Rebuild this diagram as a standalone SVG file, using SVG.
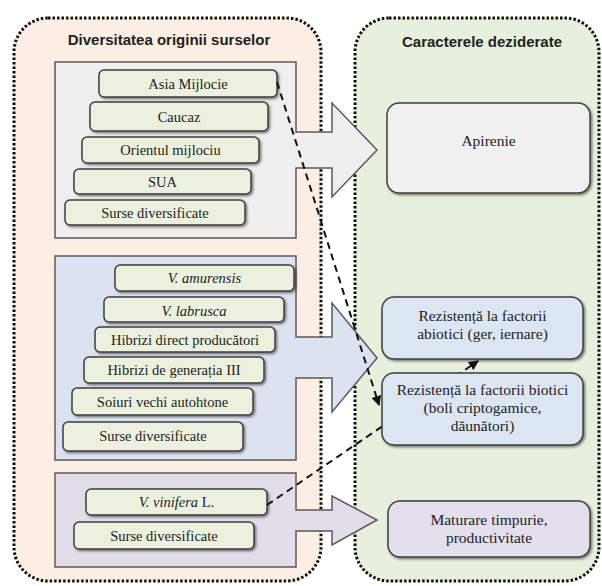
<svg xmlns="http://www.w3.org/2000/svg" width="602" height="586" viewBox="0 0 602 586">
<defs>
<filter id="sh" x="-10%" y="-20%" width="125%" height="150%">
<feDropShadow dx="1.5" dy="1.5" stdDeviation="1" flood-color="#000" flood-opacity="0.5"/>
</filter>
<marker id="ah" markerUnits="userSpaceOnUse" markerWidth="10" markerHeight="10" viewBox="0 0 10 10" refX="9" refY="5" orient="auto">
<path d="M0,0 L10,5 L0,10 Z" fill="#111"/>
</marker>
<style>
.cont{stroke:#111;stroke-width:3;stroke-dasharray:2.5 2;}
.title{font-weight:bold;font-size:15px;fill:#222;text-anchor:middle;}
.grp{stroke:#595959;stroke-width:1.5;}
.item{fill:#ebf1de;stroke:#3f3f3f;stroke-width:1.5;filter:url(#sh);}
.it{font-size:14.5px;fill:#222;text-anchor:middle;}
.node{stroke:#3f3f3f;stroke-width:1.5;filter:url(#sh);}
.nt{font-size:15.5px;fill:#222;text-anchor:middle;}
.dash{fill:none;stroke:#111;stroke-width:2;stroke-dasharray:7 5;}
</style>
</defs>

<g id="container-left">
<rect class="cont" x="14" y="18" width="307" height="563" rx="34" fill="#fdeee3"/>
<text class="title" font-family="Liberation Sans, Arial, sans-serif" x="169" y="45">Diversitatea originii surselor</text>
</g>
<g id="container-right">
<rect class="cont" x="355" y="18" width="244" height="563" rx="34" fill="#e6f0dc"/>
<text class="title" font-family="Liberation Sans, Arial, sans-serif" x="482" y="47">Caracterele deziderate</text>
</g>

<g id="group-1" font-family="Liberation Serif, Times New Roman, serif">
<path class="grp" fill="#efefef" d="M55,62 H296 V132 H332 V103 L377,150 L332,197 V168 H296 V238 H55 Z"/>
<g id="n-asia"><rect class="item" x="99" y="70" width="178" height="27" rx="5"/><text class="it" x="188" y="88.5">Asia Mijlocie</text></g>
<g id="n-caucaz"><rect class="item" x="90" y="102" width="178" height="29" rx="5"/><text class="it" x="179" y="121.5">Caucaz</text></g>
<g id="n-orient"><rect class="item" x="82" y="137" width="177" height="26" rx="5"/><text class="it" x="170.5" y="155">Orientul mijlociu</text></g>
<g id="n-sua"><rect class="item" x="74" y="169" width="177" height="25" rx="5"/><text class="it" x="162.5" y="186.5">SUA</text></g>
<g id="n-surse1"><rect class="item" x="65" y="200" width="180" height="25" rx="5"/><text class="it" x="155" y="217.5">Surse diversificate</text></g>
</g>

<g id="group-2" font-family="Liberation Serif, Times New Roman, serif">
<path class="grp" fill="#dce3f0" d="M55,256 H296 V337 H332 V303 L377,358 L332,412 V378 H296 V460 H55 Z"/>
<g id="n-amurensis"><rect class="item" x="115" y="265" width="179" height="26" rx="5"/><text class="it" x="204.5" y="283" font-style="italic" font-size="14">V. amurensis</text></g>
<g id="n-labrusca"><rect class="item" x="104" y="297" width="180" height="25" rx="5"/><text class="it" x="194" y="315.5" font-style="italic" font-size="17">V. labrusca</text></g>
<g id="n-hdp"><rect class="item" x="95" y="327" width="180" height="25" rx="5"/><text class="it" x="185" y="344.5">Hibrizi direct producători</text></g>
<g id="n-hg3"><rect class="item" x="84" y="357" width="180" height="26" rx="5"/><text class="it" x="174" y="375">Hibrizi de generația III</text></g>
<g id="n-soiuri"><rect class="item" x="72" y="388" width="181" height="27" rx="5"/><text class="it" x="162.5" y="406.5">Soiuri vechi autohtone</text></g>
<g id="n-surse2"><rect class="item" x="63" y="422" width="180" height="29" rx="5"/><text class="it" x="153" y="441">Surse diversificate</text></g>
</g>

<g id="group-3" font-family="Liberation Serif, Times New Roman, serif">
<path class="grp" fill="#e3dde9" d="M55,473 H296 V510 H332 V496 L377,520 L332,545 V531 H296 V567 H55 Z"/>
<g id="n-vinifera"><rect class="item" x="86" y="489" width="181" height="26" rx="5"/><text class="it" x="176.5" y="507"><tspan font-style="italic">V. vinifera</tspan> L.</text></g>
<g id="n-surse3"><rect class="item" x="74" y="522" width="180" height="27" rx="5"/><text class="it" x="164" y="540.5">Surse diversificate</text></g>
</g>

<g id="connectors">
<path class="dash" d="M277,82 L379,405" marker-end="url(#ah)"/>
<path class="dash" d="M267,505 L478,361" marker-end="url(#ah)"/>
</g>

<g id="n-apirenie" font-family="Liberation Serif, Times New Roman, serif"><rect class="node" x="387" y="103" width="203" height="90" rx="12" fill="#f0f0f0"/><text class="nt" x="488.5" y="146" font-size="17">Apirenie</text></g>
<g id="n-abiotici" font-family="Liberation Serif, Times New Roman, serif"><rect class="node" x="382" y="297" width="201" height="62" rx="12" fill="#dce6f2"/><text class="nt" x="482.5" y="321">Rezistență la factorii</text><text class="nt" x="482.5" y="339">abiotici (ger, iernare)</text></g>
<g id="n-biotici" font-family="Liberation Serif, Times New Roman, serif"><rect class="node" x="382" y="373" width="201" height="72" rx="12" fill="#dce6f2"/><text class="nt" x="482.5" y="395">Rezistență la factorii biotici</text><text class="nt" x="482.5" y="413">(boli criptogamice,</text><text class="nt" x="482.5" y="431">dăunători)</text></g>
<g id="n-maturare" font-family="Liberation Serif, Times New Roman, serif"><rect class="node" x="388" y="501" width="202" height="56" rx="12" fill="#e4dfec"/><text class="nt" x="489" y="525">Maturare timpurie,</text><text class="nt" x="489" y="543">productivitate</text></g>
</svg>
